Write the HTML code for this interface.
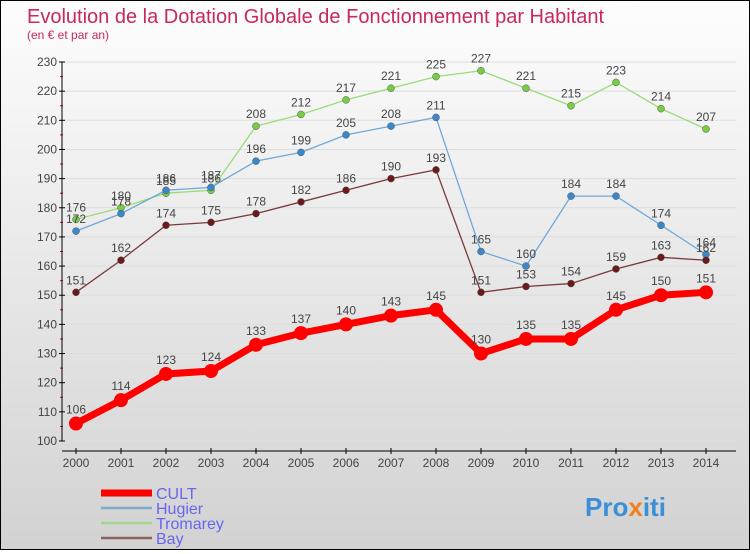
<!DOCTYPE html>
<html><head><meta charset="utf-8"><style>
body{margin:0}
#c{width:748px;height:548px;border:1px solid #000;background:linear-gradient(#fdfdfd,#d2d2d2);position:relative}
text{font-family:"Liberation Sans","DejaVu Sans",sans-serif}
</style></head><body>
<div id="c">
<svg id="s" width="748" height="548">
<text x="26" y="22" font-size="20" fill="#c8285a">Evolution de la Dotation Globale de Fonctionnement par Habitant</text>
<text x="26" y="38" font-size="12" fill="#c8285a">(en € et par an)</text>
<text x="584" y="515" font-size="26" font-weight="bold" fill="#3a8fd8">Pro<tspan fill="#f08020">x</tspan>iti</text>
</svg></div>
<script>
const years=[2000,2001,2002,2003,2004,2005,2006,2007,2008,2009,2010,2011,2012,2013,2014];
const cult=[106,114,123,124,133,137,140,143,145,130,135,135,145,150,151];
const hugier=[172,178,186,187,196,199,205,208,211,165,160,184,184,174,164];
const tromarey=[176,180,185,186,208,212,217,221,225,227,221,215,223,214,207];
const bay=[151,162,174,175,178,182,186,190,193,151,153,154,159,163,162];
const yTicks=[100,110,120,130,140,150,160,170,180,190,200,210,220,230];
const NS='http://www.w3.org/2000/svg',s=document.getElementById('s');
const X=i=>75+i*45, Y=v=>440-(v-100)*(379/130);
function el(t,a,p){const e=document.createElementNS(NS,t);for(const k in a)e.setAttribute(k,a[k]);(p||s).appendChild(e);return e;}
yTicks.forEach(v=>{
 const g=el('line',{x1:61,x2:735,y1:Y(v),y2:Y(v),stroke:'#ddd'});
 
 el('line',{x1:58,x2:64,y1:Y(v),y2:Y(v),stroke:'#000'});
 if(v<230){el('line',{x1:59,x2:62,y1:Y(v+5),y2:Y(v+5),stroke:'#e00'});}
 const t=el('text',{x:56,y:Y(v)+4,'font-size':12,'text-anchor':'end',fill:'#444'});t.textContent=v;
 
});
el('line',{x1:61,x2:61,y1:Y(230),y2:440,stroke:'#000'});
el('line',{x1:61,x2:735,y1:450,y2:450,stroke:'#000'});
years.forEach((y,i)=>{
 el('line',{x1:X(i),x2:X(i),y1:447,y2:453,stroke:'#000'});
 const t=el('text',{x:X(i),y:466,'font-size':12,'text-anchor':'middle',fill:'#444'});t.textContent=y;
 
});
const series=[['tromarey',tromarey,'#99dd77','#77cc44',1.3,3.5],['hugier',hugier,'#6fa8d8','#3a88cc',1.3,3.5],['bay',bay,'#7a3a3a','#6a1a1a',1.3,3.5],['cult',cult,'#ff0000','#ff0000',7,7]];
series.forEach(([n,d,lc,pc,w,r])=>{
 const p=el('polyline',{points:d.map((v,i)=>X(i)+','+Y(v)).join(' '),fill:'none',stroke:lc,'stroke-width':w});
 
 d.forEach((v,i)=>{
  const c=el('circle',{cx:X(i),cy:Y(v),r:r,fill:pc,stroke:n=='cult'?'#e00':'#555','stroke-width':n=='cult'?0:0.5});
  
  const t=el('text',{x:X(i),y:Y(v)-(n=='cult'?10:8),'font-size':12,'text-anchor':'middle',fill:'#444'});t.textContent=v;
  
 });
});
const leg=[['CULT','#ff0000',7],['Hugier','#80a8c8',2.5],['Tromarey','#a0d890',2.5],['Bay','#8a6060',2.5]];
leg.forEach(([n,c,w],i)=>{
 const y=492+i*15;
 el('line',{x1:100,x2:151,y1:y,y2:y,stroke:c,'stroke-width':w});
 const t=el('text',{x:155,y:y+6,'font-size':16,fill:'#6666ee'});t.textContent=n;
 
});
</script>
</body></html>
